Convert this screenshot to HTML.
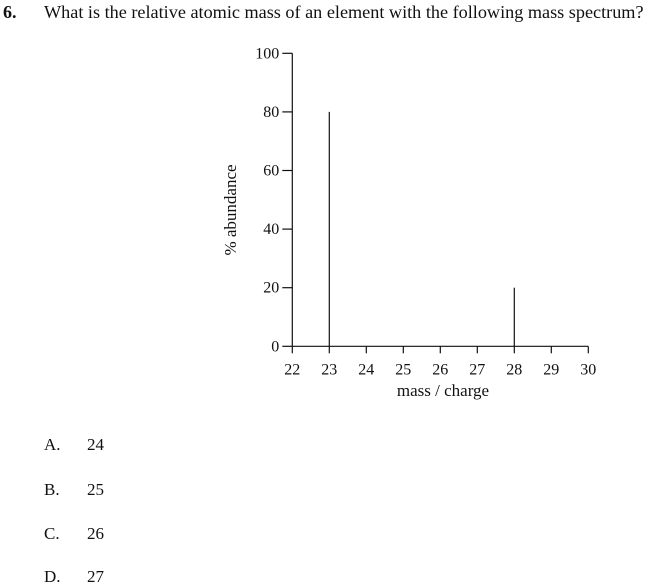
<!DOCTYPE html>
<html><head><meta charset="utf-8"><style>
body{margin:0;width:650px;height:587px;background:#fff;font-family:"Liberation Serif",serif;color:#111;position:relative;overflow:hidden}
.t{position:absolute;font-size:17px;white-space:nowrap}
</style></head><body>
<div class="t" style="left:3px;top:2px;font-weight:bold;font-size:18px">6.</div>
<div class="t" style="left:44px;top:2px;font-size:18.2px">What is the relative atomic mass of an element with the following mass spectrum?</div>
<svg width="650" height="430" style="position:absolute;left:0;top:0" font-family="Liberation Serif, serif" font-size="16" fill="#111">
<g id="g"></g>
<text transform="translate(236,210) rotate(-90)" text-anchor="middle" font-size="17">% abundance</text>
<text x="443" y="396" text-anchor="middle" font-size="17">mass / charge</text>
</svg>
<div class="t" style="left:44px;top:435px">A.<span style="position:absolute;left:43px">24</span></div>
<div class="t" style="left:44px;top:480px">B.<span style="position:absolute;left:43px">25</span></div>
<div class="t" style="left:44px;top:524px">C.<span style="position:absolute;left:43px">26</span></div>
<div class="t" style="left:44px;top:567px">D.<span style="position:absolute;left:43px">27</span></div>
<script>
const xTicks=[22,23,24,25,26,27,28,29,30];
const yTicks=[0,20,40,60,80,100];
const masses=[23,28];
const abundances=[80,20];
const X=v=>292.3+(v-22)*37;
const Y=v=>346.3-v*2.93;
const g=document.getElementById('g');
const NS='http://www.w3.org/2000/svg';
function ln(x1,y1,x2,y2,n){const l=document.createElementNS(NS,'line');l.setAttribute('x1',x1);l.setAttribute('y1',y1);l.setAttribute('x2',x2);l.setAttribute('y2',y2);l.setAttribute('stroke','#111');l.setAttribute('stroke-width','1.2');


g.appendChild(l);}
function tx(x,y,s,a,n){const t=document.createElementNS(NS,'text');t.setAttribute('x',x);t.setAttribute('y',y);t.setAttribute('text-anchor',a);t.textContent=s;


g.appendChild(t);}
ln(X(22),Y(100),X(22),Y(0),'y-axis');
ln(X(22),Y(0),X(30),Y(0),'x-axis');
yTicks.forEach(v=>{ln(X(22)-10,Y(v),X(22),Y(v),'y-tick');tx(X(22)-13,Y(v)+5,String(v),'end','y-tick-label');});
xTicks.forEach(v=>{ln(X(v),Y(0),X(v),Y(0)+7,'x-tick');tx(X(v),Y(0)+28,String(v),'middle','x-tick-label');});
masses.forEach((m,i)=>ln(X(m),Y(0),X(m),Y(abundances[i]),'peak-'+m));
</script>
</body></html>
